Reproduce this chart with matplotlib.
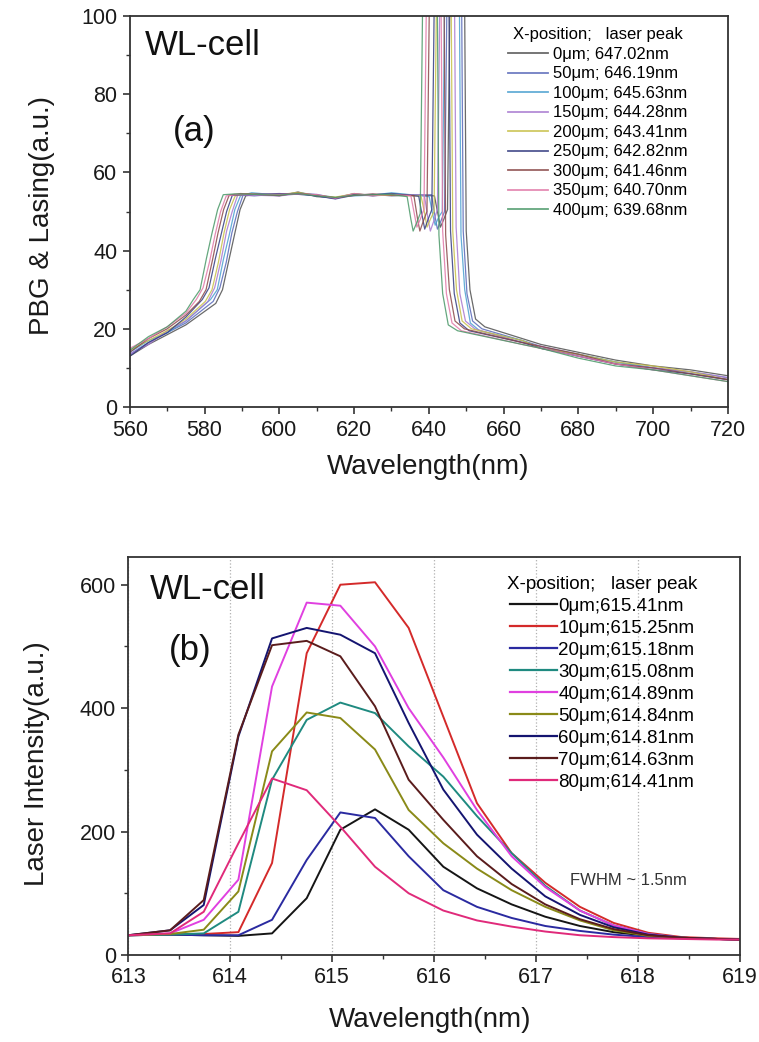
import matplotlib
matplotlib.use("Agg")
import matplotlib.pyplot as plt
from matplotlib.ticker import MultipleLocator

plt.rcParams['font.family'] = ['Liberation Sans', 'DejaVu Sans']

# ---------------- Panel (a) data ----------------
a_labels = ["0\u03bcm; 647.02nm", "50\u03bcm; 646.19nm", "100\u03bcm; 645.63nm",
            "150\u03bcm; 644.28nm", "200\u03bcm; 643.41nm", "250\u03bcm; 642.82nm",
            "300\u03bcm; 641.46nm", "350\u03bcm; 640.70nm", "400\u03bcm; 639.68nm"]
a_colors = ['#505050', '#5868b8', '#4aa0d0', '#a878d0', '#c8c048',
            '#343c80', '#8a4848', '#e078a8', '#4a9868']

x0 = [560, 565, 570, 575, 583.0, 584.8, 586.5, 588.0, 589.5, 591.0, 594.0, 600, 605, 610, 615, 620, 625, 630, 641.5, 642.5, 643.1, 644.0, 645.0, 645.6, 647.5, 649.6, 650.0, 651.0, 652.5, 655.0, 665, 670, 680, 690, 700, 710, 720]
y0 = [13.0, 16.0, 18.5, 21.0, 26.5, 30.0, 37.5, 44.0, 50.5, 54.0, 54.5, 54.0, 55.0, 53.8, 53.5, 54.6, 54.0, 54.5, 54.0, 49.0, 46.0, 48.0, 50.5, 100, 400, 100, 45, 30, 22.5, 20.5, 17.5, 16.0, 14.0, 12.0, 10.5, 9.5, 8.0]
x1 = [560, 565, 570, 575, 582.3, 584.1, 585.8, 587.3, 588.8, 590.3, 593.3, 600, 605, 610, 615, 620, 625, 630, 640.7, 641.7, 642.3, 643.2, 644.2, 644.8, 646.7, 648.8, 649.2, 650.2, 651.7, 654.2, 665, 670, 680, 690, 700, 710, 720]
y1 = [13.5, 16.5, 19.0, 21.5, 27.0, 30.5, 37.0, 44.5, 50.0, 54.2, 54.0, 54.5, 54.6, 54.0, 53.2, 54.2, 54.4, 54.0, 54.3, 48.5, 45.5, 47.5, 50.0, 100, 400, 100, 45, 29, 22.0, 20.0, 17.0, 15.5, 13.5, 11.5, 10.0, 9.0, 7.5]
x2 = [560, 565, 570, 575, 581.6, 583.4, 585.1, 586.6, 588.1, 589.6, 592.6, 600, 605, 610, 615, 620, 625, 630, 640.1, 641.1, 641.7, 642.6, 643.6, 644.2, 646.1, 648.2, 648.6, 649.6, 651.1, 653.6, 665, 670, 680, 690, 700, 710, 720]
y2 = [14.0, 17.0, 19.0, 22.0, 27.5, 30.0, 38.0, 44.0, 50.5, 54.0, 54.8, 54.2, 54.8, 54.3, 53.6, 54.0, 54.2, 54.8, 53.8, 49.0, 46.5, 48.5, 50.0, 100, 400, 100, 44, 30, 21.5, 19.5, 17.0, 15.0, 13.5, 11.5, 10.0, 8.5, 7.0]
x3 = [560, 565, 570, 575, 580.9, 582.7, 584.4, 585.9, 587.4, 588.9, 591.9, 600, 605, 610, 615, 620, 625, 630, 638.8, 639.8, 640.4, 641.3, 642.3, 642.9, 644.8, 646.9, 647.3, 648.3, 649.8, 652.3, 665, 670, 680, 690, 700, 710, 720]
y3 = [13.5, 16.0, 19.5, 22.0, 27.0, 30.5, 37.5, 45.0, 50.0, 54.3, 54.2, 54.0, 54.5, 54.4, 53.4, 54.3, 54.0, 54.3, 54.2, 48.0, 45.0, 47.5, 50.5, 100, 400, 100, 46, 29, 22.0, 20.0, 16.5, 15.5, 13.0, 11.0, 10.0, 9.0, 7.5]
x4 = [560, 565, 570, 575, 580.2, 582.0, 583.7, 585.2, 586.7, 588.2, 591.2, 600, 605, 610, 615, 620, 625, 630, 637.9, 638.9, 639.5, 640.4, 641.4, 642.0, 643.9, 646.0, 646.4, 647.4, 648.9, 651.4, 665, 670, 680, 690, 700, 710, 720]
y4 = [14.5, 17.0, 19.5, 22.5, 27.0, 30.0, 37.0, 44.5, 50.5, 54.0, 54.5, 54.3, 54.9, 54.1, 53.7, 54.5, 54.2, 54.1, 54.0, 49.5, 46.0, 48.0, 50.0, 100, 400, 100, 45, 30, 22.0, 20.0, 17.0, 15.0, 13.5, 11.5, 10.5, 9.0, 7.0]
x5 = [560, 565, 570, 575, 579.4, 581.2, 582.9, 584.4, 585.9, 587.4, 590.4, 600, 605, 610, 615, 620, 625, 630, 637.3, 638.3, 638.9, 639.8, 640.8, 641.4, 643.3, 645.4, 645.8, 646.8, 648.3, 650.8, 665, 670, 680, 690, 700, 710, 720]
y5 = [13.0, 16.5, 19.0, 23.0, 27.5, 30.5, 38.0, 44.0, 50.0, 54.1, 54.3, 54.6, 54.4, 54.0, 53.3, 54.4, 54.3, 54.6, 53.9, 48.5, 45.5, 48.0, 50.5, 100, 400, 100, 45, 29, 21.5, 19.5, 16.5, 15.0, 13.0, 11.0, 9.5, 8.5, 7.0]
x6 = [560, 565, 570, 575, 578.6, 580.4, 582.1, 583.6, 585.1, 586.6, 589.6, 600, 605, 610, 615, 620, 625, 630, 636.0, 637.0, 637.6, 638.5, 639.5, 640.1, 642.0, 644.1, 644.5, 645.5, 647.0, 649.5, 665, 670, 680, 690, 700, 710, 720]
y6 = [14.0, 17.5, 20.0, 23.5, 27.0, 30.0, 37.5, 44.5, 50.5, 54.2, 54.6, 54.1, 54.7, 54.2, 53.5, 54.1, 54.5, 54.2, 54.1, 48.0, 45.0, 47.5, 50.0, 100, 400, 100, 44, 30, 22.0, 20.0, 16.5, 15.5, 13.5, 11.0, 10.0, 8.5, 7.0]
x7 = [560, 565, 570, 575, 577.8, 579.6, 581.3, 582.8, 584.3, 585.8, 588.8, 600, 605, 610, 615, 620, 625, 630, 635.2, 636.2, 636.8, 637.7, 638.7, 639.3, 641.2, 643.3, 643.7, 644.7, 646.2, 648.7, 665, 670, 680, 690, 700, 710, 720]
y7 = [15.0, 17.5, 20.5, 24.0, 27.5, 30.5, 37.0, 44.0, 50.0, 54.0, 54.3, 54.4, 54.5, 54.3, 53.4, 54.6, 54.1, 54.4, 54.0, 49.0, 46.0, 48.0, 50.5, 100, 400, 100, 45, 29, 21.5, 19.5, 16.0, 15.0, 13.0, 11.0, 9.5, 8.0, 6.5]
x8 = [560, 565, 570, 575, 577.0, 578.8, 580.5, 582.0, 583.5, 585.0, 588.0, 600, 605, 610, 615, 620, 625, 630, 634.2, 635.2, 635.8, 636.7, 637.7, 638.3, 640.2, 642.3, 642.7, 643.7, 645.2, 647.7, 665, 670, 680, 690, 700, 710, 720]
y8 = [14.5, 18.0, 20.5, 24.5, 27.5, 30.0, 38.0, 44.5, 50.5, 54.3, 54.5, 54.2, 54.6, 54.0, 53.6, 54.2, 54.3, 54.4, 53.8, 48.0, 45.0, 47.0, 49.5, 100, 400, 100, 44, 29, 21.0, 19.5, 16.0, 15.0, 12.5, 10.5, 9.5, 8.0, 6.5]

a_x = [x0, x1, x2, x3, x4, x5, x6, x7, x8]
a_y = [y0, y1, y2, y3, y4, y5, y6, y7, y8]

# ---------------- Panel (b) data ----------------
b_wl = [613.0, 613.41, 613.74, 614.08, 614.41, 614.75, 615.08, 615.42, 615.75, 616.09,
        616.42, 616.76, 617.09, 617.43, 617.76, 618.10, 618.43, 618.77, 619.0]
b_labels = ["0\u03bcm;615.41nm", "10\u03bcm;615.25nm", "20\u03bcm;615.18nm",
            "30\u03bcm;615.08nm", "40\u03bcm;614.89nm", "50\u03bcm;614.84nm",
            "60\u03bcm;614.81nm", "70\u03bcm;614.63nm", "80\u03bcm;614.41nm"]
b_colors = ['#151515', '#d42a2a', '#2a2aa0', '#1f8a80', '#e040e0',
            '#8a8a18', '#141470', '#5a1c1c', '#e02a7a']
b_0 = [32, 33, 32, 31, 35, 92, 203, 236, 203, 143, 108, 82, 62, 47, 37, 31, 28, 26, 25]
b_10 = [32, 33, 34, 37, 149, 489, 600, 604, 530, 386, 246, 165, 117, 78, 52, 36, 29, 27, 26]
b_20 = [32, 33, 32, 32, 57, 154, 231, 222, 160, 105, 78, 60, 47, 39, 33, 29, 27, 26, 25]
b_30 = [32, 33, 35, 70, 284, 381, 409, 392, 338, 289, 225, 165, 112, 72, 48, 34, 28, 26, 25]
b_40 = [32, 35, 57, 122, 435, 571, 566, 500, 400, 320, 235, 160, 110, 72, 48, 34, 28, 26, 25]
b_50 = [32, 34, 41, 103, 330, 393, 384, 333, 235, 181, 140, 105, 78, 56, 40, 31, 28, 26, 25]
b_60 = [32, 40, 81, 354, 513, 530, 519, 489, 376, 268, 195, 140, 95, 65, 45, 33, 28, 26, 25]
b_70 = [32, 40, 89, 357, 502, 509, 484, 403, 284, 219, 160, 115, 82, 58, 42, 32, 28, 26, 25]
b_80 = [32, 35, 70, 181, 286, 267, 208, 143, 100, 72, 56, 46, 38, 32, 29, 27, 26, 25, 25]
b_series = [b_0, b_10, b_20, b_30, b_40, b_50, b_60, b_70, b_80]

# ---------------- Figure ----------------
fig = plt.figure(figsize=(7.59, 10.42), dpi=100)
ax1 = fig.add_axes([0.171, 0.6094, 0.788, 0.3752])
ax2 = fig.add_axes([0.169, 0.0835, 0.806, 0.382])

spine_c = '#333333'
for ax in (ax1, ax2):
    for s in ax.spines.values():
        s.set_color(spine_c)
        s.set_linewidth(1.3)
    ax.tick_params(which='major', direction='out', length=5, width=1.2,
                   labelsize=15.5, colors=spine_c, labelcolor='#1a1a1a', pad=4)
    ax.tick_params(which='minor', direction='out', length=3, width=1.0, colors=spine_c)

# Panel a
for xs, ys, c, lab in zip(a_x, a_y, a_colors, a_labels):
    ax1.plot(xs, ys, color=c, lw=0.9, alpha=0.85, label=lab)
ax1.set_xlim(560, 720)
ax1.set_ylim(0, 100)
ax1.xaxis.set_major_locator(MultipleLocator(20))
ax1.xaxis.set_minor_locator(MultipleLocator(10))
ax1.yaxis.set_major_locator(MultipleLocator(20))
ax1.yaxis.set_minor_locator(MultipleLocator(10))
ax1.set_xlabel("Wavelength(nm)", fontsize=20, color='#1a1a1a')
ax1.set_ylabel("PBG & Lasing(a.u.)", fontsize=20, color='#1a1a1a')
ax1.xaxis.set_label_coords(0.498, -0.12)
ax1.yaxis.set_label_coords(-0.125, 0.49)
ax1.text(0.025, 0.925, "WL-cell", transform=ax1.transAxes, fontsize=25,
         ha='left', va='center', color='#111111')
ax1.text(0.072, 0.705, "(a)", transform=ax1.transAxes, fontsize=25,
         ha='left', va='center', color='#111111')
leg1 = ax1.legend(loc='upper left', bbox_to_anchor=(0.61, 1.005), frameon=False,
                  fontsize=12, title="X-position;   laser peak", title_fontsize=12,
                  handlelength=2.4, handletextpad=0.3, labelspacing=0.27,
                  borderpad=0.3)
for h in leg1.get_lines():
    h.set_linewidth(1.3)

# Panel b
for ys, c, lab in zip(b_series, b_colors, b_labels):
    ax2.plot(b_wl, ys, color=c, lw=1.4, label=lab)
ax2.set_xlim(613, 619)
ax2.set_ylim(0, 645)
ax2.xaxis.set_major_locator(MultipleLocator(1))
ax2.xaxis.set_minor_locator(MultipleLocator(0.5))
ax2.yaxis.set_major_locator(MultipleLocator(200))
ax2.yaxis.set_minor_locator(MultipleLocator(100))
ax2.grid(axis='x', which='major', color='#b0b0b0', linestyle=':', linewidth=0.9)
ax2.set_axisbelow(True)
ax2.set_xlabel("Wavelength(nm)", fontsize=20, color='#1a1a1a')
ax2.set_ylabel("Laser Intensity(a.u.)", fontsize=20, color='#1a1a1a')
ax2.xaxis.set_label_coords(0.493, -0.13)
ax2.yaxis.set_label_coords(-0.128, 0.48)
ax2.text(0.036, 0.917, "WL-cell", transform=ax2.transAxes, fontsize=25,
         ha='left', va='center', color='#111111')
ax2.text(0.066, 0.766, "(b)", transform=ax2.transAxes, fontsize=25,
         ha='left', va='center', color='#111111')
ax2.text(0.722, 0.188, "FWHM ~ 1.5nm", transform=ax2.transAxes, fontsize=12,
         ha='left', va='center', color='#333333')
leg2 = ax2.legend(loc='upper left', bbox_to_anchor=(0.595, 0.99), frameon=False,
                  fontsize=13.5, title="X-position;   laser peak", title_fontsize=13.5,
                  handlelength=2.5, handletextpad=0.05, labelspacing=0.26,
                  borderpad=0.3)
for h in leg2.get_lines():
    h.set_linewidth(1.6)

fig.savefig("out.png", dpi=100)
